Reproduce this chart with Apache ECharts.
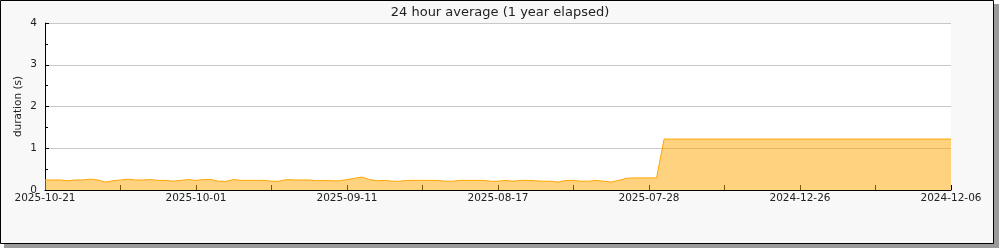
<!DOCTYPE html>
<html>
<head>
<meta charset="utf-8">
<script src="https://cdn.jsdelivr.net/npm/echarts@6/dist/echarts.min.js"></script>
<style>
html,body{margin:0;padding:0;background:#fff;}
#chart{width:1000px;height:250px;}
</style>
</head>
<body>
<div id="chart"></div>
<script>
var titleText = '24 hour average (1 year elapsed)';
var yAxisName = 'duration (s)';
var xTickLabels = ['2025-10-21', '2025-10-01', '2025-09-11', '2025-08-17', '2025-07-28', '2024-12-26', '2024-12-06'];
var durationValues = [
  0.24, 0.24, 0.24, 0.22, 0.24, 0.24, 0.26, 0.24, 0.19, 0.22,
  0.24, 0.26, 0.24, 0.24, 0.25, 0.23, 0.23, 0.21, 0.23, 0.25,
  0.23, 0.25, 0.25, 0.21, 0.21, 0.25, 0.23, 0.23, 0.23, 0.23,
  0.21, 0.21, 0.25, 0.24, 0.24, 0.24, 0.22, 0.23, 0.22, 0.22,
  0.25, 0.28, 0.31, 0.25, 0.22, 0.23, 0.21, 0.21, 0.23, 0.23,
  0.23, 0.23, 0.23, 0.21, 0.21, 0.23, 0.23, 0.23, 0.23, 0.21,
  0.21, 0.23, 0.21, 0.23, 0.23, 0.22, 0.21, 0.21, 0.19, 0.23,
  0.23, 0.21, 0.21, 0.23, 0.21, 0.19, 0.23, 0.28, 0.29, 0.29,
  0.29, 0.29, 1.22, 1.22, 1.22, 1.22, 1.22, 1.22, 1.22, 1.22,
  1.22, 1.22, 1.22, 1.22, 1.22, 1.22, 1.22, 1.22, 1.22, 1.22,
  1.22, 1.22, 1.22, 1.22, 1.22, 1.22, 1.22, 1.22, 1.22, 1.22,
  1.22, 1.22, 1.22, 1.22, 1.22, 1.22, 1.22, 1.22, 1.22, 1.22,
  1.22
];

var seriesData = durationValues.map(function (v, i) { return [i, v]; });
var lastIndex = durationValues.length - 1;
var labelStep = lastIndex / (xTickLabels.length - 1);
var font = 'DejaVu Sans';

var chart = echarts.init(document.getElementById('chart'), null, {renderer: 'canvas'});
chart.setOption({
  animation: false,
  backgroundColor: '#ffffff',
  graphic: [
    {type: 'rect', z: -20, silent: true, shape: {x: 4, y: 4, width: 995, height: 244}, style: {fill: '#9a9a9a'}},
    {type: 'rect', z: -10, silent: true, shape: {x: 0.5, y: 0.5, width: 993, height: 243}, style: {fill: '#f8f8f8', stroke: '#000', lineWidth: 1}}
  ],
  title: {
    text: titleText,
    left: 'center',
    top: 1,
    textStyle: {fontFamily: font, fontSize: 13, fontWeight: 'normal', color: '#222'}
  },
  grid: {
    left: 45, right: 49, top: 23, bottom: 60,
    show: true, backgroundColor: '#ffffff', borderWidth: 0
  },
  xAxis: {
    type: 'value',
    min: 0, max: lastIndex, interval: lastIndex / 12,
    axisLine: {show: true, onZero: false, lineStyle: {color: '#000', width: 1}},
    axisTick: {show: true, inside: true, length: 5, lineStyle: {color: '#000'}},
    splitLine: {show: false},
    axisLabel: {
      margin: 3, fontFamily: font, fontSize: 10.5, color: '#222',
      showMinLabel: true, showMaxLabel: true,
      formatter: function (v) {
        var k = v / labelStep;
        var r = Math.round(k);
        return Math.abs(k - r) < 1e-6 ? xTickLabels[r] : '';
      }
    }
  },
  yAxis: {
    type: 'value',
    min: 0, max: 4, interval: 1,
    name: yAxisName,
    nameLocation: 'middle',
    nameGap: 21,
    nameMoveOverlap: false,
    nameTextStyle: {fontFamily: font, fontSize: 10.5, color: '#222'},
    axisLine: {show: true, lineStyle: {color: '#000', width: 1}},
    axisTick: {show: true, inside: true, length: 4, lineStyle: {color: '#000'}},
    minorTick: {show: true, splitNumber: 2, length: 3, lineStyle: {color: '#000'}},
    splitLine: {show: true, lineStyle: {color: '#c8c8c8', width: 1}},
    axisLabel: {margin: 8, fontFamily: font, fontSize: 10.5, color: '#222'}
  },
  series: [{
    type: 'line',
    data: seriesData,
    showSymbol: false,
    symbol: 'none',
    lineStyle: {color: '#ffa500', width: 1},
    areaStyle: {color: 'rgba(255,165,0,0.5)', opacity: 1},
    z: 2
  }]
});
</script>
</body>
</html>
